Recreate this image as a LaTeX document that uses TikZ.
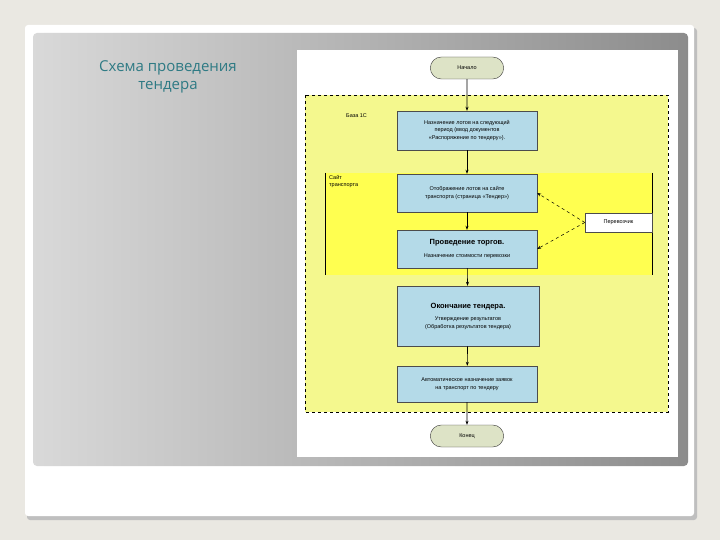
\documentclass[tikz,border=0pt]{standalone}
\usepackage{fontspec}
\setmainfont{Liberation Sans}
\newfontfamily\titlefont{Open Sans}
\usetikzlibrary{arrows.meta,shapes.misc}
\definecolor{slidebg}{HTML}{EAE8E2}
\definecolor{boxblue}{HTML}{B4DAE8}
\definecolor{paleyel}{HTML}{F4F88E}
\definecolor{brightyel}{HTML}{FFFF50}
\definecolor{pill}{HTML}{DDE3C6}
\definecolor{titlecol}{HTML}{2E7A84}
\begin{document}
\begin{tikzpicture}[x=1pt,y=-1pt,
  blue/.style={draw=black!70,fill=boxblue,line width=0.4pt,inner sep=1pt,align=center,font=\fontsize{5.5}{7.5}\selectfont},
  term/.style={draw=black!80,fill=pill,rounded rectangle,minimum width=80pt,minimum height=22pt,font=\fontsize{5.5}{7}\selectfont},
  arr/.style={-{Stealth[length=4pt,width=3pt]},line width=0.6pt},
  darr/.style={-{Stealth[length=4pt,width=3pt]},dashed,line width=0.5pt},
  lbl/.style={font=\fontsize{5.5}{7}\selectfont,align=left,anchor=north west,inner sep=0pt}]
\useasboundingbox (0,0) rectangle (720,540);
\fill[slidebg] (0,0) rectangle (720,540);
\fill[black!25,rounded corners=3pt] (27,28) rectangle (697,520);
\fill[white,rounded corners=3pt] (25,25) rectangle (694,516);
\shade[rounded corners=4pt,left color=white!85!black, right color=black!45] (33,33) rectangle (688,466);
\fill[white] (297,50) rectangle (678,457);
\node[text=titlecol,font=\titlefont\fontsize{15}{18}\selectfont,align=center] (title) at (168,77) {Схема проведения\\тендера};
% frames
\draw[fill=paleyel,dashed,line width=0.6pt] (305,95) rectangle (668,412);
\fill[brightyel] (325,173) rectangle (652,275);
\draw[line width=0.6pt] (325,173) -- (325,275) (652,173) -- (652,275);
\node[term] (start) at (467,68) {Начало};
\node[term] (end) at (467,436) {Конец};
\node[blue,minimum width=140pt,minimum height=39pt] (b1) at (467,130.5) {Назначение лотов на следующий\\период (ввод документов\\«Распоряжение по тендеру»).};
\node[blue,minimum width=140pt,minimum height=38pt] (b2) at (467,193) {Отображение лотов на сайте\\транспорта (страница «Тендер»)};
\node[blue,minimum width=140pt,minimum height=38pt] (b3) at (467,249) {{\bfseries\fontsize{7.5}{10}\selectfont Проведение торгов.}\\[5pt]Назначение стоимости перевозки};
\node[blue,minimum width=142pt,minimum height=60pt] (b4) at (468,316) {{\bfseries\fontsize{7.5}{10}\selectfont Окончание тендера.}\\[5pt]Утверждение результатов\\(Обработка результатов тендера)};
\node[blue,minimum width=140pt,minimum height=36pt] (b5) at (467,384) {Автоматическое назначение заявок\\на транспорт по тендеру};
\node[draw=black!70,fill=white,minimum width=67pt,minimum height=19pt,inner sep=1pt,font=\fontsize{5.5}{7}\selectfont] (car) at (618.5,222.5) {Перевозчик};
\node[lbl] (l1) at (346,113) {База 1С};
\node[lbl] (l2) at (329,175) {Сайт\\транспорта};
\draw[arr] (start) -- (b1);
\draw[arr] (b1) -- (b2);
\draw[arr] (b2) -- (b3);
\draw[arr] (b3) -- (b4);
\draw[arr] (b4) -- (b5);
\draw[arr] (b5) -- (end);
\draw[darr] (car.west) -- (b2.east);
\draw[darr] (car.west) -- (b3.east);
\end{tikzpicture}
\end{document}
